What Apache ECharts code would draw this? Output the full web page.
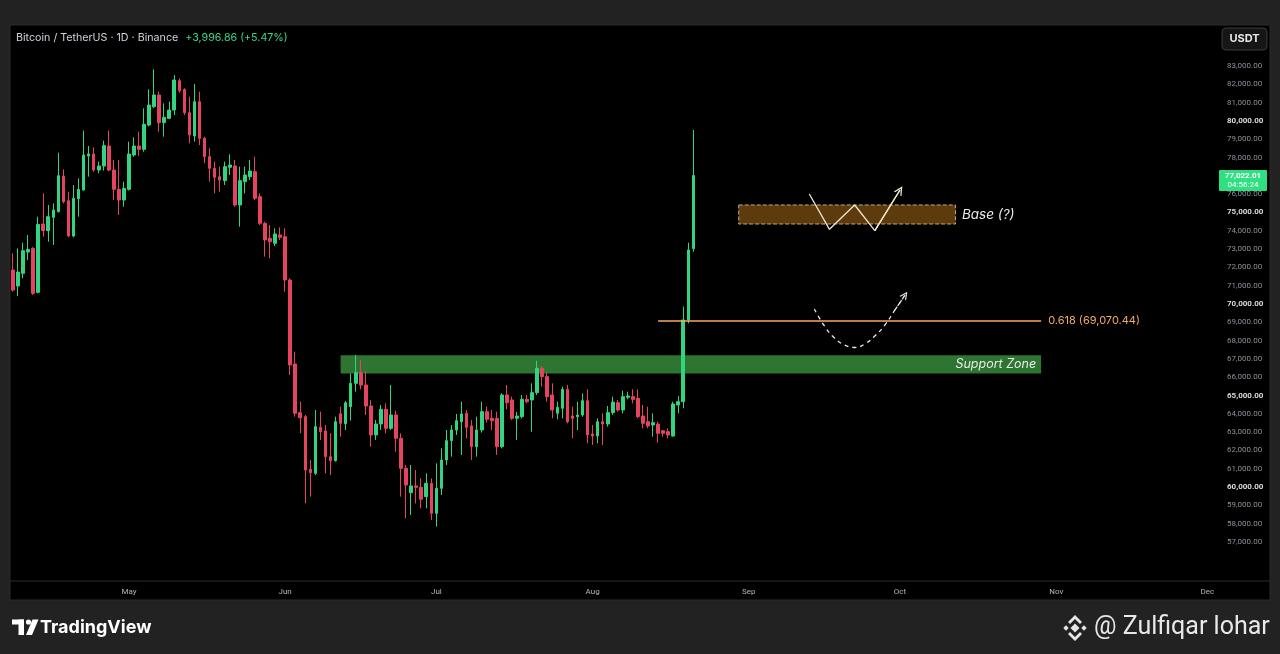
<!DOCTYPE html>
<html>
<head>
<meta charset="utf-8">
<script src="https://cdn.jsdelivr.net/npm/echarts@6/dist/echarts.min.js"></script>
<style>
html,body{margin:0;padding:0;background:#222222;}
#chart{width:1280px;height:654px;}
</style>
</head>
<body>
<div id="chart"></div>
<script>
// ---- Data ----
const startYear = 2026, startMonth = 4, startDay = 8; // first candle: 8 April
const dayCount = 239;                                  // axis runs to early December
const monthNames = ['Jan','Feb','Mar','Apr','May','Jun','Jul','Aug','Sep','Oct','Nov','Dec'];

const opens = [71856,70982,71674,72839,73040,70636,74368,74004,74732,75042,
  76991,75644,73713,75753,76226,78084,78193,77319,77537,78630,
  77319,76263,75680,76263,78138,78630,78448,79777,80778,81416,
  79904,80141,80597,82199,81726,80451,79177,81052,79050,78048,
  77411,76955,76737,77466,77538,75408,76682,76955,77229,75863,
  74407,73587,73314,73769,73678,71311,66723,64065,63847,60970,
  60752,63264,63064,61662,61443,64000,63460,64393,65667,66250,
  65576,64429,62845,63446,64247,63209,63938,62663,61024,59695,
  60060,59986,59477,60205,58567,59932,61479,62536,63118,63573,
  64029,63337,62208,63118,64120,63756,63756,62208,65030,64757,
  63760,63846,64793,64757,65157,66487,66031,65030,64029,64302,
  65339,63883,63847,63938,64721,62900,62790,63573,63445,64065,
  64611,64211,64902,64939,64848,63883,63573,63391,63445,63081,
  63027,62790,64484,64666,69127,73025];
const closes = [70763,71746,72912,72985,70581,74350,74004,74769,75134,77009,
  75589,73713,75771,76263,78138,78193,77319,77537,78648,77319,
  76263,75680,76317,78193,78630,78448,79813,80870,81416,79904,
  80196,80597,82235,81653,80451,79232,81052,79050,78048,77411,
  76919,76774,77502,77593,75408,76737,77046,77265,75772,74407,
  73496,73405,73824,73642,71311,66668,64029,63792,60934,60788,
  63300,63027,61662,61443,63573,63480,64600,65667,66250,65576,
  64429,62845,63446,64247,63209,63938,62663,61024,60114,60060,
  59986,59331,60205,58567,59932,61479,62536,63118,63628,63993,
  63264,62208,63118,64120,63701,63628,62208,65030,64611,63756,
  63880,64793,64666,65157,66487,66031,64939,64211,64357,65339,
  63573,63755,63938,64721,62845,62790,63573,63445,64065,64640,
  64211,64939,64975,64793,63846,63482,63337,63519,62936,62936,
  62845,64539,64666,69127,72949,77022.01];
const lows = [70672,70435,71400,72402,70490,70580,73677,73404,73222,75000,
  75498,73650,73650,74769,76200,76955,77228,77137,77282,77250,
  75680,74860,75316,76200,78047,78100,78320,79700,80700,79413,
  79140,80100,80324,81544,80324,78776,78867,78685,77684,76683,
  76045,76136,76500,77046,75317,74225,76045,76773,75681,74316,
  72586,72495,73168,73496,70674,66122,63847,62936,59113,59477,
  60661,62572,60752,60661,61388,62754,63118,63628,65212,65340,
  63938,62208,62572,63118,62936,63118,61935,59477,58294,58476,
  59112,58840,58840,58203,57838,59568,61206,61662,62845,61753,
  62663,61480,61662,62973,63519,63118,61753,62117,64247,63665,
  62572,63755,64575,63027,65030,65485,64666,63755,63700,63755,
  63482,62663,63118,63846,62390,62299,62390,62299,63300,63938,
  64120,64029,64793,64575,63755,63209,63209,62754,62426,62754,
  62663,62754,64029,64302,68944,72858];
const highs = [72766,73039,73349,73768,73100,74769,76044,75407,75498,78266,
  77355,76135,76499,76863,79467,78630,78557,77774,78921,79467,
  77865,77865,76681,78867,79103,79413,80688,81726,82818,81598,
  80961,81052,82509,82327,81780,81325,82017,81598,79140,78503,
  77775,77502,77775,78176,77866,77502,77502,77866,78048,76045,
  74497,74316,74134,74188,74134,71400,67397,64666,63938,61479,
  64211,64120,63392,62936,63847,64393,64700,66213,67215,66942,
  66305,64757,63665,64484,64575,65576,64175,62936,61206,61206,
  60934,60478,60752,60478,61297,62117,63118,63391,63993,64666,
  64211,63665,63847,64666,64393,64211,64120,65121,65576,64939,
  64100,65030,65030,65667,66904,66613,66250,65667,64666,65485,
  65576,64393,64666,65121,65339,63391,63755,64029,64429,64939,
  64757,65266,65211,65339,65339,64484,64393,64029,63573,63118,
  63209,64666,64975,69855,73350,79504];

const yTickMin = 55000, yTickMax = 85000, yTickStep = 1000;
const yLabelLow = 57000, yLabelHigh = 83000;
const lastPrice = 77022.01;
const lastPriceTimer = '04:56:24';

const supportZoneDates = ['2026-06-12', '2026-10-29'];
const supportZonePrices = [66200, 67200];
const baseZoneDates = ['2026-08-30', '2026-10-12'];
const baseZonePrices = [74370, 75410];
const fibDates = ['2026-08-14', '2026-10-29'];
const fibLevel = 69070.44;
const fibRatio = '0.618';
const zigzagDates = ['2026-09-13','2026-09-17','2026-09-22','2026-09-26','2026-10-01'];
const zigzagPrices = [76009, 74080, 75408, 74004, 76227];
const arcDates = ['2026-09-14','2026-09-16','2026-09-18','2026-09-20','2026-09-22','2026-09-24','2026-09-26','2026-09-28','2026-09-30','2026-10-02'];
const arcPrices = [69727, 68800, 68143, 67760, 67625, 67815, 68253, 68854, 69673, 70492];

// ---- Build ----
const categories = [];
for (let i = 0; i < dayCount; i++) {
  const d = new Date(Date.UTC(startYear, startMonth - 1, startDay + i));
  categories.push(d.toISOString().slice(0, 10));
}
const candleData = opens.map((o, i) => [o, closes[i], lows[i], highs[i]]);
const zigzagData = zigzagDates.map((d, i) => [d, zigzagPrices[i]]);
const arcData = arcDates.map((d, i) => [d, arcPrices[i]]);
const fibData = fibDates.map(d => [d, fibLevel]);

const UP = '#31d47f', DOWN = '#e5445f', FIB = '#f7a862';
const chevron = 'path://M0,10 L5,0 L10,10 L8.4,10 L5,3.2 L1.6,10 Z';
const fmtPrice = v => v.toLocaleString('en-US', {minimumFractionDigits: 2, maximumFractionDigits: 2});

const chart = echarts.init(document.getElementById('chart'), null, {renderer: 'canvas'});
const option = {
  backgroundColor: '#222222',
  animation: false,
  grid: {left: 10.5, right: 65, top: 29.4, bottom: 75.4, containLabel: false},
  xAxis: {
    type: 'category', data: categories, boundaryGap: true,
    axisLine: {show: false}, axisTick: {show: false}, splitLine: {show: false},
    axisLabel: {
      interval: (i, v) => v.endsWith('-01'),
      formatter: v => monthNames[parseInt(v.slice(5, 7), 10) - 1],
      color: '#b2b5be', fontSize: 8, margin: 9, fontFamily: 'Roboto'
    }
  },
  yAxis: {
    type: 'value', position: 'right', min: yTickMin, max: yTickMax, interval: yTickStep,
    splitLine: {show: false}, axisLine: {show: false}, axisTick: {show: false},
    axisLabel: {
      margin: 12, align: 'left',
      formatter: v => (v < yLabelLow || v > yLabelHigh) ? '' : (v % 5000 === 0 ? '{b|' + fmtPrice(v) + '}' : '{n|' + fmtPrice(v) + '}'),
      rich: {
        n: {color: '#8e9099', fontSize: 8, fontFamily: 'Roboto'},
        b: {color: '#dcdcdc', fontSize: 8, fontWeight: 'bold', fontFamily: 'Roboto'}
      }
    }
  },
  graphic: [
    {type: 'rect', z: -10, shape: {x: 10, y: 25, width: 1260, height: 575}, style: {fill: '#000000', stroke: '#2a2a2a', lineWidth: 1}},
    {type: 'line', z: -9, shape: {x1: 10, y1: 581, x2: 1270, y2: 581}, style: {stroke: '#2c2c2c', lineWidth: 1}},
    {type: 'text', left: 16, top: 32, style: {
      text: '{a|Bitcoin / TetherUS · 1D · Binance}{g|+3,996.86 (+5.47%)}',
      rich: {a: {fill: '#d1d4dc', fontSize: 10.7, fontFamily: 'Inter'}, g: {fill: '#3dd68c', fontSize: 10.7, fontFamily: 'Inter', padding: [0, 0, 0, 7]}}
    }},
    {type: 'rect', shape: {x: 1222, y: 28, width: 45, height: 22, r: 4}, style: {fill: '#161616', stroke: '#3a3a3a', lineWidth: 1}},
    {type: 'text', x: 1244.5, y: 39, style: {text: 'USDT', fill: '#e6e6e6', fontSize: 11, fontWeight: 'bold', fontFamily: 'Inter', align: 'center', verticalAlign: 'middle'}},
    // TradingView logo
    {type: 'rect', shape: {x: 12, y: 619.5, width: 12, height: 5}, style: {fill: '#ffffff'}},
    {type: 'rect', shape: {x: 18.5, y: 619.5, width: 5.5, height: 15.5}, style: {fill: '#ffffff'}},
    {type: 'circle', shape: {cx: 28.5, cy: 622, r: 2.6}, style: {fill: '#ffffff'}},
    {type: 'polygon', shape: {points: [[32.5, 619.5], [38.5, 619.5], [32, 635], [26, 635]]}, style: {fill: '#ffffff'}},
    {type: 'text', x: 40, y: 627.5, style: {text: 'TradingView', fill: '#ffffff', fontSize: 18, fontWeight: 'bold', fontFamily: 'Inter', verticalAlign: 'middle'}},
    // Binance logo + author
    {type: 'polygon', shape: {points: [[1075, 623.5], [1079.5, 628], [1075, 632.5], [1070.5, 628]]}, style: {fill: '#e6e6e6'}},
    {type: 'polygon', shape: {points: [[1066, 625.3], [1068.7, 628], [1066, 630.7], [1063.3, 628]]}, style: {fill: '#e6e6e6'}},
    {type: 'polygon', shape: {points: [[1084, 625.3], [1086.7, 628], [1084, 630.7], [1081.3, 628]]}, style: {fill: '#e6e6e6'}},
    {type: 'polygon', shape: {points: [[1075, 615], [1082, 622], [1080, 624], [1075, 619], [1070, 624], [1068, 622]]}, style: {fill: '#e6e6e6'}},
    {type: 'polygon', shape: {points: [[1075, 641], [1082, 634], [1080, 632], [1075, 637], [1070, 632], [1068, 634]]}, style: {fill: '#e6e6e6'}},
    {type: 'text', x: 1094, y: 628, style: {text: '@ Zulfiqar lohar', fill: '#e8e8e8', fontSize: 25, fontFamily: 'Roboto', verticalAlign: 'middle'}}
  ],
  series: [
    {
      type: 'candlestick', name: 'BTCUSDT', data: candleData, barWidth: '62%',
      itemStyle: {color: UP, color0: DOWN, borderColor: UP, borderColor0: DOWN, borderWidth: 1},
      markArea: {
        silent: true,
        data: [
          [
            {xAxis: supportZoneDates[0], yAxis: supportZonePrices[1],
             itemStyle: {color: '#2e7532', opacity: 1},
             label: {show: true, position: 'insideRight', formatter: 'Support Zone', color: '#ececec', fontStyle: 'italic', fontSize: 12.5, fontFamily: 'Inter', distance: 5}},
            {xAxis: supportZoneDates[1], yAxis: supportZonePrices[0]}
          ],
          [
            {xAxis: baseZoneDates[0], yAxis: baseZonePrices[1],
             itemStyle: {color: '#5d3b0d', opacity: 1, borderColor: '#c9a87c', borderWidth: 1, borderType: 'dashed'},
             label: {show: true, position: 'right', formatter: 'Base (?)', color: '#ececec', fontStyle: 'italic', fontSize: 13.5, fontFamily: 'Inter', distance: 6}},
            {xAxis: baseZoneDates[1], yAxis: baseZonePrices[0]}
          ]
        ]
      }
    },
    {
      type: 'line', name: 'fib', data: fibData, symbol: 'none', z: 4,
      color: FIB,
      lineStyle: {color: FIB, width: 1.4},
      endLabel: {show: true, formatter: () => fibRatio + ' (' + fmtPrice(fibLevel) + ')', color: FIB, fontSize: 11, fontFamily: 'Inter', distance: 7}
    },
    {
      type: 'line', name: 'zigzag', data: zigzagData, symbol: 'none', z: 5,
      lineStyle: {color: '#efe6d2', width: 1.3},
      markLine: {
        silent: true, symbol: ['none', chevron], symbolSize: [9, 9],
        lineStyle: {color: '#efe6d2', width: 1.3, type: 'solid'}, label: {show: false},
        data: [[{coord: zigzagData[3]}, {coord: zigzagData[4]}]]
      }
    },
    {
      type: 'line', name: 'arc', data: arcData, symbol: 'none', smooth: true, z: 5,
      lineStyle: {color: '#e8e8e8', width: 1.3, type: [4, 4]},
      markLine: {
        silent: true, symbol: ['none', chevron], symbolSize: [8, 8],
        lineStyle: {color: '#e8e8e8', width: 1.3, type: [4, 4]}, label: {show: false},
        data: [[{coord: arcData[8]}, {coord: arcData[9]}]]
      }
    }
  ]
};
chart.setOption(option);

// current price tag on the price scale, placed through the axis scale
const py = chart.convertToPixel({yAxisIndex: 0}, lastPrice);
chart.setOption({
  graphic: option.graphic.concat([
    {type: 'rect', shape: {x: 1219, y: py - 5.5, width: 48, height: 21, r: 1}, style: {fill: '#2ee082'}, z: 20},
    {type: 'text', x: 1243, y: py + 0.5, z: 21, style: {text: fmtPrice(lastPrice), fill: '#ffffff', fontSize: 8, fontWeight: 'bold', fontFamily: 'Roboto', align: 'center', verticalAlign: 'middle'}},
    {type: 'text', x: 1243, y: py + 9.5, z: 21, style: {text: lastPriceTimer, fill: '#ffffff', fontSize: 8, fontFamily: 'Roboto', align: 'center', verticalAlign: 'middle'}}
  ])
});
</script>
</body>
</html>
